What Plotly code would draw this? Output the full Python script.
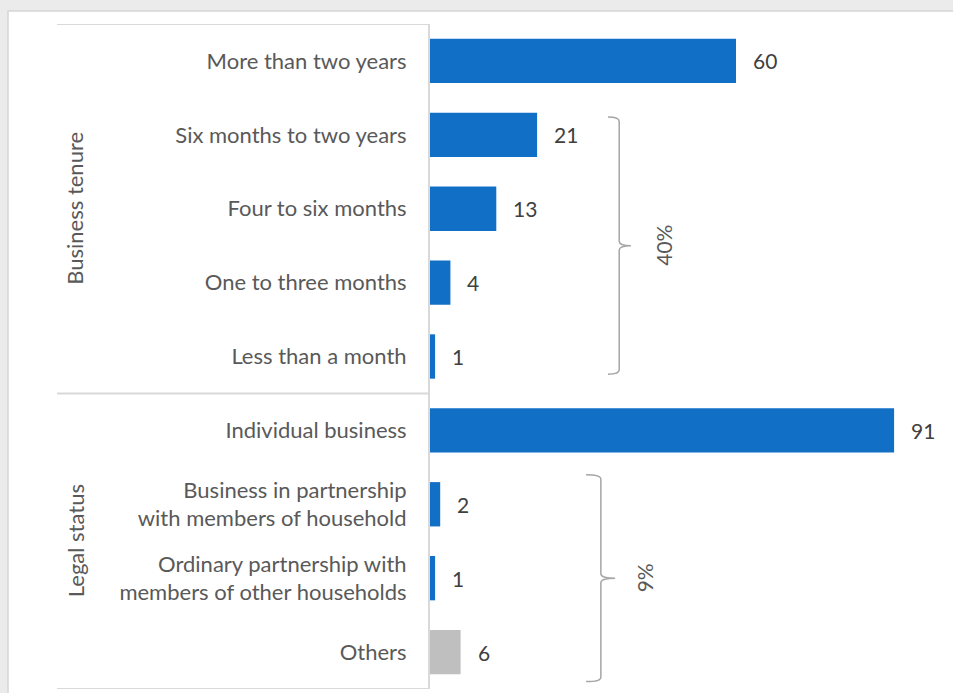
import plotly.graph_objects as go

# Survey results: business tenure and legal status (share of respondents, %)
categories = [
    "More than two years",
    "Six months to two years",
    "Four to six months",
    "One to three months",
    "Less than a month",
    "Individual business",
    "Business in partnership<br>with members of household",
    "Ordinary partnership with<br>members of other households",
    "Others",
]
values = [60, 21, 13, 4, 1, 91, 2, 1, 6]
bar_colors = ["#1170C6"] * 8 + ["#BFBFBF"]

group_names = ["Business tenure", "Legal status"]
group_rows = [(0, 4), (5, 8)]

# bracketed subtotals: (first row, last row, label)
brackets = [(1, 4, "40%"), (6, 8, "9%")]

W, H = 953, 693
ML, MR, MT, MB = 430, 0, 24, 4
FONT = "Lato"
FS = 22
LABEL_GRAY = "#595959"
LINE_GRAY = "#D9D9D9"


def px_x(p):
    return (p - ML) / (W - ML - MR)


def px_y(p):
    return 1 - (p - MT) / (H - MT - MB)


rows = list(range(len(categories)))
x_max = (W - ML - MR) / 5.1

fig = go.Figure(
    go.Bar(
        x=values,
        y=rows,
        orientation="h",
        width=0.6,
        marker=dict(color=bar_colors, line=dict(width=0)),
        hoverinfo="skip",
    )
)

shapes = [
    # white card behind the chart
    dict(type="rect", xref="paper", yref="paper",
         x0=px_x(8), x1=px_x(W + 20), y0=px_y(H + 20), y1=px_y(11),
         fillcolor="white", line=dict(color="#D6D6D6", width=1.5), layer="below"),
]
# frame lines around the category labels
for yv in [-0.5, 4.5, 8.5]:
    shapes.append(dict(type="line", xref="paper", yref="y",
                       x0=px_x(57), x1=px_x(429), y0=yv, y1=yv,
                       line=dict(color=LINE_GRAY, width=2)))

annotations = []
for v, r in zip(values, rows):
    annotations.append(dict(x=v, y=r, xref="x", yref="y", text=str(v),
                            showarrow=False, xanchor="left", xshift=15,
                            font=dict(family=FONT, size=FS - 1, color="#404040")))

for name, (a, b) in zip(group_names, group_rows):
    annotations.append(dict(x=px_x(75), y=(a + b) / 2, xref="paper", yref="y",
                            text=name, textangle=-90, showarrow=False,
                            xanchor="center", yanchor="middle",
                            font=dict(family=FONT, size=FS, color=LABEL_GRAY)))

# curly brackets with their subtotal labels
bracket_x = [(34.9, 37.1, 39.4, 45.9, 0.24), (30.6, 33.5, 36.3, 42.0, 0.40)]
for (a, b, label), (xt, xv, xp, xl, pad) in zip(brackets, bracket_x):
    ya, yb = a - pad, b + pad
    ym = (ya + yb) / 2
    r = 0.06
    path = (f"M {xt},{ya} Q {xv},{ya} {xv},{ya + r} L {xv},{ym - r} "
            f"Q {xv},{ym} {xp},{ym} Q {xv},{ym} {xv},{ym + r} "
            f"L {xv},{yb - r} Q {xv},{yb} {xt},{yb}")
    shapes.append(dict(type="path", xref="x", yref="y", path=path,
                       line=dict(color="#A6A6A6", width=1.5)))
    annotations.append(dict(x=xl, y=ym, xref="x", yref="y", text=label,
                            textangle=-90, showarrow=False,
                            xanchor="center", yanchor="middle",
                            font=dict(family=FONT, size=FS - 1, color=LABEL_GRAY)))

fig.update_layout(
    width=W, height=H,
    margin=dict(l=ML, r=MR, t=MT, b=MB),
    paper_bgcolor="#EBEBEB",
    plot_bgcolor="rgba(0,0,0,0)",
    showlegend=False,
    bargap=0.4,
    shapes=shapes,
    annotations=annotations,
    xaxis=dict(range=[0, x_max], visible=False, fixedrange=True),
    yaxis=dict(
        range=[8.5, -0.5],
        tickvals=rows,
        ticktext=categories,
        ticks="outside", ticklen=17, tickcolor="rgba(0,0,0,0)",
        tickfont=dict(family=FONT, size=FS, color=LABEL_GRAY),
        showgrid=False, zeroline=False,
        showline=True, linecolor=LINE_GRAY, linewidth=2,
        fixedrange=True,
    ),
)

fig.write_html("out.html", config={"displayModeBar": False})
